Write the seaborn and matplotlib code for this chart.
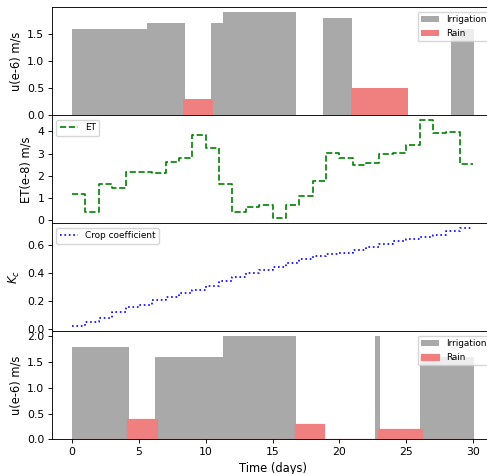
import matplotlib
matplotlib.use("Agg")
import matplotlib.pyplot as plt
import numpy as np
import pandas as pd
import seaborn as sns

# ---- Water inputs, scenario A (start day, end day, rate in 1e-6 m/s) ----
irr_a_start = [0.0, 5.6, 10.4, 11.3, 18.77, 28.35]
irr_a_end = [5.6, 8.43, 11.3, 16.75, 20.92, 30.1]
irr_a_rate = [1.6, 1.7, 1.7, 1.9, 1.8, 1.6]

rain_a_start = [8.3, 20.87]
rain_a_end = [10.55, 25.13]
rain_a_rate = [0.3, 0.5]

# ---- Daily evapotranspiration (1e-8 m/s) ----
et_days = list(range(31))
et_values = [1.17, 0.35, 1.63, 1.44, 2.19, 2.15, 2.12, 2.61, 2.81, 3.84,
             3.23, 1.63, 0.37, 0.60, 0.68, 0.08, 0.69, 1.11, 1.77, 3.03,
             2.81, 2.49, 2.58, 2.96, 3.03, 3.38, 4.50, 3.93, 3.98, 2.52]

# ---- Daily crop coefficient ----
kc_values = [0.021, 0.050, 0.083, 0.121, 0.157, 0.174, 0.207, 0.231, 0.260, 0.283,
             0.310, 0.343, 0.371, 0.402, 0.424, 0.445, 0.474, 0.498, 0.521, 0.538,
             0.543, 0.567, 0.590, 0.607, 0.631, 0.643, 0.660, 0.676, 0.700, 0.721]

# ---- Water inputs, scenario B ----
irr_b_start = [0.0, 6.2, 11.3, 22.66, 26.0]
irr_b_end = [4.26, 11.3, 16.75, 23.04, 30.1]
irr_b_rate = [1.8, 1.6, 2.0, 2.0, 1.6]

rain_b_start = [0.0, 4.1, 6.36, 16.7, 18.85, 22.9, 26.2]
rain_b_end = [4.1, 6.36, 16.7, 18.85, 22.9, 26.2, 30.1]
rain_b_rate = [0.0, 0.4, 0.0, 0.3, 0.0, 0.2, 0.0]

IRR_COLOR = "darkgray"
RAIN_COLOR = "lightcoral"
TICK_FS = 7.8
LABEL_FS = 8.3
LEGEND_FS = 6.4
S = 0.8  # overall scale of line widths, tick lengths and paddings

plt.rcParams.update({
    "axes.linewidth": 0.8 * S,
    "xtick.major.size": 3.5 * S, "ytick.major.size": 3.5 * S,
    "xtick.major.width": 0.8 * S, "ytick.major.width": 0.8 * S,
    "xtick.major.pad": 3.5 * S, "ytick.major.pad": 3.5 * S,
    "axes.labelpad": 4.0 * S,
})


def interval_bars(ax, start, end, rate, color, label, edge=False):
    start = np.asarray(start)
    width = np.asarray(end) - start
    kw = dict(edgecolor=color, linewidth=0.9) if edge else dict(linewidth=0)
    ax.bar(start, rate, width=width, align="edge", color=color, label=label, **kw)


fig, axes = plt.subplots(4, 1, sharex=True, figsize=(4.87, 4.74), dpi=100)
fig.subplots_adjust(left=52 / 487, right=494.5 / 487, top=1 - 7.3 / 474,
                    bottom=1 - 439.3 / 474, hspace=0)
ax1, ax2, ax3, ax4 = axes

# Panel 1: irrigation and rain
interval_bars(ax1, irr_a_start, irr_a_end, irr_a_rate, IRR_COLOR, "Irrigation")
interval_bars(ax1, rain_a_start, rain_a_end, rain_a_rate, RAIN_COLOR, "Rain")
ax1.set_ylabel("u(e-6) m/s", fontsize=LABEL_FS)
ax1.legend(loc="upper right", fontsize=LEGEND_FS)

# Panel 2: evapotranspiration
et_df = pd.DataFrame({"day": et_days, "et": et_values + et_values[-1:]})
sns.lineplot(data=et_df, x="day", y="et", ax=ax2, color="green", linestyle="--",
             drawstyle="steps-post", label="ET", linewidth=1.5 * S)
ax2.set_ylabel("ET(e-8) m/s", fontsize=LABEL_FS)
ax2.set_yticks([0, 1, 2, 3, 4])
ax2.legend(loc="upper left", fontsize=LEGEND_FS)

# Panel 3: crop coefficient
kc_df = pd.DataFrame({"day": et_days, "kc": kc_values + kc_values[-1:]})
sns.lineplot(data=kc_df, x="day", y="kc", ax=ax3, color="blue", linestyle=":",
             drawstyle="steps-post", label="Crop coefficient", linewidth=1.5 * S)
ax3.set_ylabel("$K_c$", fontsize=LABEL_FS)
ax3.set_yticks([0.0, 0.2, 0.4, 0.6])
ax3.legend(loc="upper left", fontsize=LEGEND_FS)

# Panel 4: irrigation and rain
interval_bars(ax4, irr_b_start, irr_b_end, irr_b_rate, IRR_COLOR, "Irrigation")
interval_bars(ax4, rain_b_start, rain_b_end, rain_b_rate, RAIN_COLOR, "Rain", edge=True)
ax4.set_ylabel("u(e-6) m/s", fontsize=LABEL_FS)
ax4.set_yticks([0.0, 0.5, 1.0, 1.5, 2.0])
ax4.legend(loc="upper right", fontsize=LEGEND_FS)

ax1.set_xlim(-1.505, 31.605)
for ax in axes:
    ax.tick_params(labelsize=TICK_FS)
    ax.set_xlabel("")
ax4.set_xlabel("Time (days)", fontsize=LABEL_FS)

fig.savefig("out.png", dpi=100)
